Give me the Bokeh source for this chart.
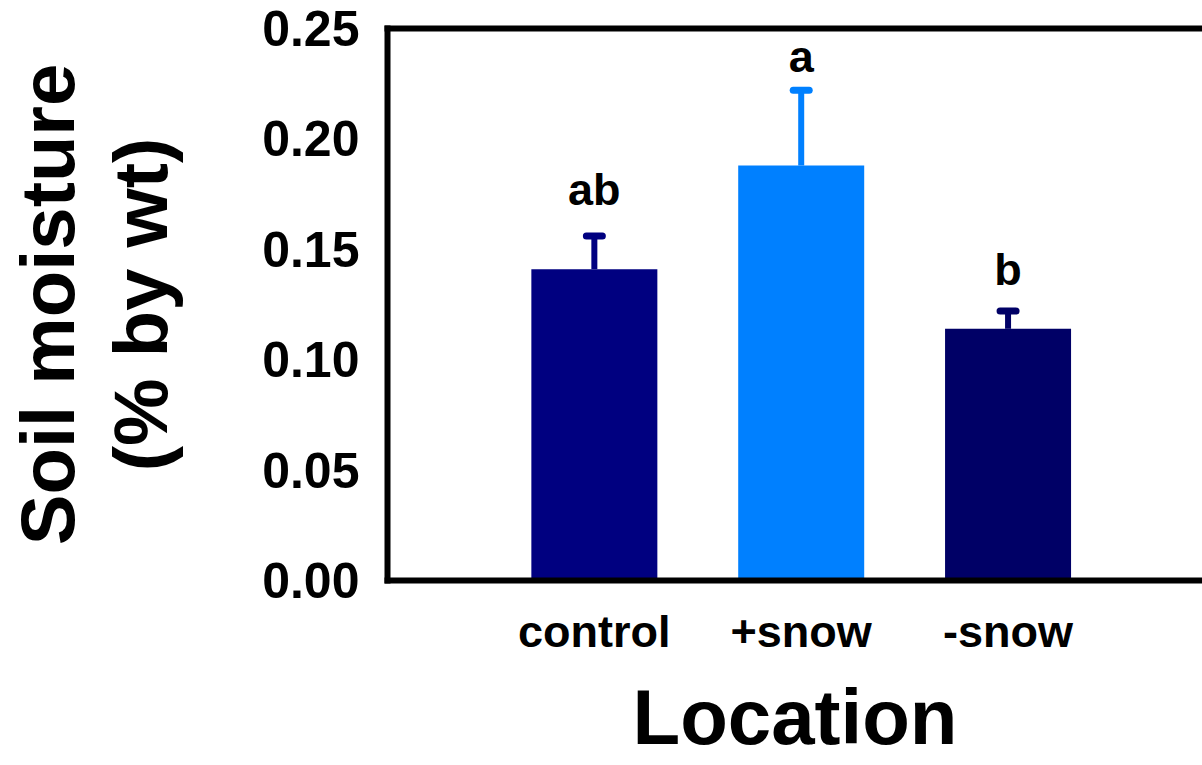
from bokeh.plotting import figure
from bokeh.models import Range1d, FixedTicker, LinearAxis, ColumnDataSource
from bokeh.core.properties import value
from bokeh.embed import file_html
from bokeh.resources import INLINE

# ---- data ----
categories = ["control", "+snow", "-snow"]
means = [0.141, 0.188, 0.114]
errors = [0.015, 0.034, 0.008]
letters = ["ab", "a", "b"]
y_ticks = [0.00, 0.05, 0.10, 0.15, 0.20, 0.25]
y_tick_labels = ["0.00", "0.05", "0.10", "0.15", "0.20", "0.25"]
x_title = "Location"
y_title_lines = ["Soil moisture", "(% by wt)"]

# ---- styling / layout ----
colors = ["#000080", "#0080FF", "#000066"]
letter_offsets_px = [-47, -34, -42]
FONT = "Liberation Sans"
W, H = 1202, 765
FRAME_L, FRAME_T, FRAME_B = 387, 28, 580
X_END = 3.94
Y_END = 0.25
px_per_x = (W - FRAME_L) / X_END

xs = [i + 1 for i in range(len(categories))]
tops = [m + e for m, e in zip(means, errors)]
cap_half = 8 / px_per_x

src = ColumnDataSource(dict(
    x=xs, cat=categories, mean=means, err=errors, top=tops, color=colors,
    letter=letters, yoff=letter_offsets_px,
    cl=[x - cap_half for x in xs], cr=[x + cap_half for x in xs],
))

p = figure(width=W, height=H, output_backend="svg", toolbar_location=None,
           x_range=Range1d(0, X_END), y_range=Range1d(0, Y_END),
           min_border_left=FRAME_L, min_border_right=0,
           min_border_top=FRAME_T, min_border_bottom=H - FRAME_B)
p.outline_line_color = None
p.xgrid.grid_line_color = None
p.ygrid.grid_line_color = None
p.background_fill_color = "white"
p.border_fill_color = "white"

p.vbar(x="x", top="mean", bottom=0, width=126 / px_per_x, fill_color="color",
       line_color=None, source=src)
p.segment(x0="x", y0="mean", x1="x", y1="top", line_color="color",
          line_width=6, source=src)
p.segment(x0="cl", y0="top", x1="cr", y1="top", line_color="color",
          line_width=7, line_cap="round", source=src)
p.text(x="x", y="top", text="letter", y_offset="yoff", text_align="center",
       text_baseline="alphabetic", text_font=value(FONT), text_font_style="bold",
       text_font_size="45px", text_color="black", source=src)

# axes
for ax in (p.xaxis[0], p.yaxis[0]):
    ax.axis_line_width = 6
    ax.axis_line_color = "black"
    ax.axis_line_cap = "square"
    ax.major_tick_line_color = None
    ax.minor_tick_line_color = None
    ax.major_tick_out = 0
    ax.major_tick_in = 0
    ax.major_label_text_font = FONT
    ax.major_label_text_font_style = "bold"
    ax.major_label_text_color = "black"
    ax.axis_label_text_font = FONT
    ax.axis_label_text_font_style = "bold"
    ax.axis_label_text_color = "black"

p.yaxis.ticker = FixedTicker(ticks=y_ticks)
p.yaxis.major_label_overrides = {t: l for t, l in zip(y_ticks, y_tick_labels)}
p.yaxis.major_label_text_font_size = "50px"
p.yaxis.major_label_standoff = 28
p.yaxis.axis_label = "\n".join(y_title_lines)
p.yaxis.axis_label_text_font_size = "76px"
p.yaxis.axis_label_standoff = 76
p.yaxis.axis_label_text_line_height = 1.1

p.xaxis.ticker = FixedTicker(ticks=xs)
p.xaxis.major_label_overrides = {x: c for x, c in zip(xs, categories)}
p.xaxis.major_label_text_font_size = "45px"
p.xaxis.major_label_standoff = 25
p.xaxis.axis_label = x_title
p.xaxis.axis_label_text_font_size = "78px"
p.xaxis.axis_label_standoff = 13

top_axis = LinearAxis(ticker=FixedTicker(ticks=[]), axis_line_width=6,
                      axis_line_color="black", axis_line_cap="square",
                      major_tick_line_color=None, minor_tick_line_color=None,
                      major_label_text_font_size="0px", major_label_standoff=0)
p.add_layout(top_axis, "above")

open("out.html", "w").write(file_html(p, INLINE))
